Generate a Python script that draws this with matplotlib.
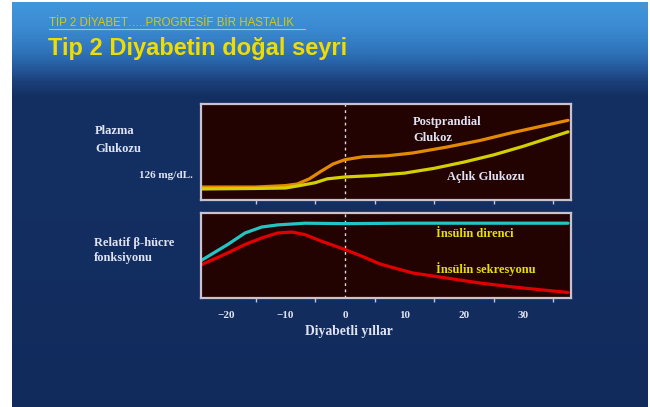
import numpy as np
import matplotlib
matplotlib.use("Agg")
import matplotlib.pyplot as plt
from matplotlib.colors import LinearSegmentedColormap

# ---------------- data ----------------
years_fast = [-24.2, -15, -10, -8, -5, -3, 0, 5, 10, 15, 20, 25, 30, 35, 37.5]
fasting_glucose = [11.5, 12, 12.5, 14.6, 18, 22, 24, 25.5, 28, 33, 39.5, 47, 56, 66, 71]

years_pp = [-24.2, -15, -10, -8, -6, -4, -2, 0, 3, 7, 11.4, 17, 22.7, 28, 37.5]
postprandial_glucose = [13.5, 13.5, 15, 16.7, 22, 30, 37.5, 42, 45, 46, 49, 55, 62, 70, 83]

years_res = [-24.2, -19.7, -16.8, -14, -11.3, -6.7, 0, 10, 20, 30, 37.5]
insulin_resistance = [44, 63, 76.5, 83.5, 86, 88, 87.5, 88, 88, 88, 88]

years_sec = [-24.2, -19.7, -16.8, -14, -11.3, -8.9, -6.7, -3.9, 0, 2.9, 5.9, 11.4, 17.1, 22.7, 28.2, 37.5]
insulin_secretion = [39, 53, 63, 70.6, 76.5, 77.6, 74.5, 66.7, 57, 49, 40, 29.4, 23.5, 17.6, 13, 6.5]

major_ticks = [-20, -10, 0, 10, 20, 30]
minor_ticks = [-15, -5, 5, 15, 25, 35]
xlim = (-24.2, 38)

W, H = 650, 407
fig = plt.figure(figsize=(W / 100, H / 100), dpi=100)
fig.patch.set_facecolor("white")

def fx(x):
    return x / W

def fy(y):
    return 1 - y / H

# slide background with gradient
bg = fig.add_axes([fx(12), 0, fx(648) - fx(12), fy(2)])
bg.set_axis_off()
n = 400
ys = np.linspace(0, 1, n)  # 0 top -> 1 bottom
stops = [(0.0, "#4196da"), (0.06, "#3b8bd2"), (0.12, "#2f74ba"),
         (0.16, "#25599c"), (0.195, "#1b4079"), (0.23, "#143063"), (1.0, "#122b5d")]
cmap = LinearSegmentedColormap.from_list("g", stops)
bg.imshow(ys[:, None], aspect="auto", cmap=cmap, extent=[0, 1, 0, 1], vmin=0, vmax=1)
bg.set_xlim(0, 1)
bg.set_ylim(0, 1)

label_col = "#dfe3f5"
yel_txt = "#e6e000"
frame_col = "#c9c3cf"
face = "#230202"

def style_axes(ax, show_labels):
    ax.set_facecolor(face)
    for s in ax.spines.values():
        s.set_color(frame_col)
        s.set_linewidth(1.6)
    ax.set_xlim(*xlim)
    ax.set_xticks(major_ticks)
    ax.set_xticks(minor_ticks, minor=True)
    ax.tick_params(axis="x", which="major", length=0, pad=9,
                   labelsize=8, labelcolor=label_col)
    ax.tick_params(axis="x", which="minor", length=3, width=1, color=frame_col)
    ax.set_yticks([])
    if show_labels:
        ax.set_xticklabels([("\u2212%d" % -t) if t < 0 else str(t) for t in major_ticks],
                           fontfamily="Liberation Serif", fontweight="bold")
    else:
        ax.set_xticklabels([])
    ax.axvline(0, color="#d8d8e0", lw=1.0, ls=(0, (2, 2.5)))

ax1 = fig.add_axes([fx(201), fy(200), fx(571) - fx(201), (200 - 104) / H])
style_axes(ax1, False)
ax1.set_ylim(0, 100)
ax1.plot(years_pp, postprandial_glucose, color="#e38a00", lw=2.3, solid_capstyle="round")
ax1.plot(years_fast, fasting_glucose, color="#d4d000", lw=2.3, solid_capstyle="round")

ax2 = fig.add_axes([fx(201), fy(298), fx(571) - fx(201), (298 - 213) / H])
style_axes(ax2, True)
ax2.set_ylim(0, 100)
ax2.plot(years_res, insulin_resistance, color="#22c4c4", lw=2.3, solid_capstyle="round")
ax2.plot(years_sec, insulin_secretion, color="#e00000", lw=2.3, solid_capstyle="round")

serif = dict(fontfamily="Liberation Serif", fontweight="bold")

# headers
fig.text(fx(49), fy(23), "TİP 2 DİYABET…..PROGRESİF BİR HASTALIK",
         color="#d8cc00", fontsize=8.3, va="center", ha="left",
         fontfamily=["Liberation Sans", "DejaVu Sans"])
fig.add_artist(plt.Line2D([fx(49), fx(305)], [fy(29), fy(29)], color="#d8cc00", lw=0.8))
fig.text(fx(48), fy(48), "Tip 2 Diyabetin doğal seyri", color="#f0dc00",
         fontsize=17, fontweight="bold", va="center", ha="left",
         fontfamily=["Liberation Sans", "DejaVu Sans"])

# panel labels
fs = 9
fig.text(fx(95), fy(131), "Plazma", color=label_col, fontsize=fs, va="center", ha="left", **serif)
fig.text(fx(95), fy(149), "Glukozu", color=label_col, fontsize=fs, va="center", ha="left", **serif)
fig.text(fx(193), fy(176), "126 mg/dL.", color=label_col, fontsize=8, va="center", ha="right", **serif)
fig.text(fx(94), fy(243), "Relatif β-hücre", color=label_col, fontsize=fs, va="center", ha="left", **serif)
fig.text(fx(94), fy(258), "fonksiyonu", color=label_col, fontsize=fs, va="center", ha="left", **serif)

fig.text(fx(413), fy(122), "Postprandial", color=label_col, fontsize=fs, va="center", ha="left", **serif)
fig.text(fx(413), fy(138), "Glukoz", color=label_col, fontsize=fs, va="center", ha="left", **serif)
fig.text(fx(447), fy(177), "Açlık Glukozu", color=label_col, fontsize=fs, va="center", ha="left", **serif)

fig.text(fx(436), fy(234), "İnsülin direnci", color=yel_txt, fontsize=fs, va="center", ha="left", **serif)
fig.text(fx(436), fy(269), "İnsülin sekresyonu", color=yel_txt, fontsize=fs, va="center", ha="left", **serif)

fig.text(fx(349), fy(332), "Diyabetli yıllar", color=label_col, fontsize=9.8, va="center", ha="center", **serif)

fig.savefig("out.png", dpi=100)
